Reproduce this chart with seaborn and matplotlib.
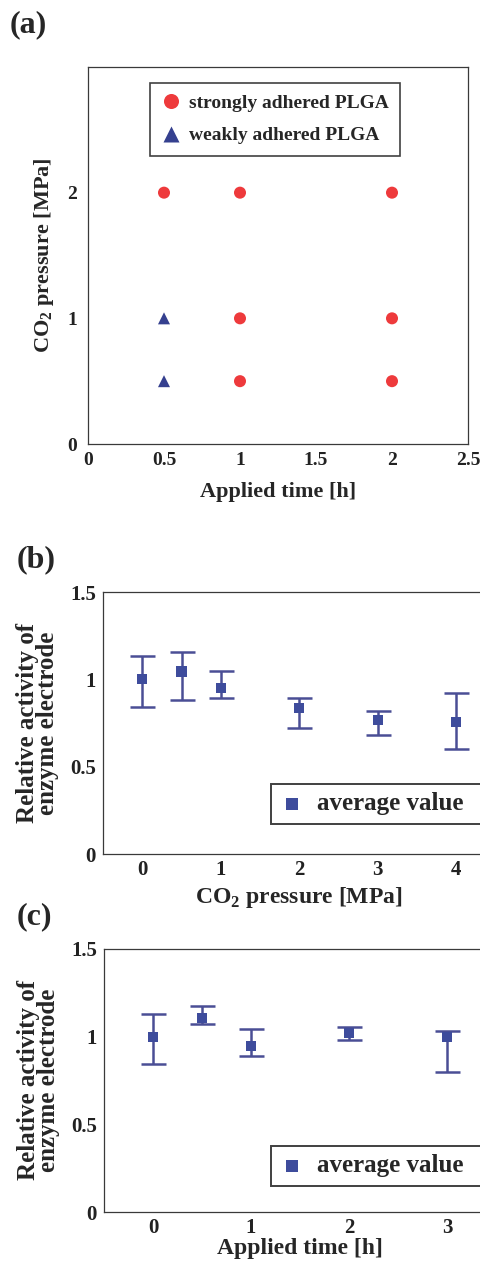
import numpy as np
import pandas as pd
import matplotlib
matplotlib.use("Agg")
import matplotlib.pyplot as plt
import seaborn as sns

# ---- panel (a): adhesion state map ----
time_h = [0.5, 1, 2, 0.5, 1, 2, 0.5, 1, 2]
pressure_mpa = [2, 2, 2, 1, 1, 1, 0.5, 0.5, 0.5]
adhesion = ["strongly adhered PLGA", "strongly adhered PLGA", "strongly adhered PLGA",
            "weakly adhered PLGA", "strongly adhered PLGA", "strongly adhered PLGA",
            "weakly adhered PLGA", "strongly adhered PLGA", "strongly adhered PLGA"]

# ---- panel (b): activity vs CO2 pressure ----
b_pressure = [0, 0.5, 1, 2, 3, 4]
b_mean = [1.00, 1.044, 0.950, 0.837, 0.768, 0.757]
b_low = [0.843, 0.881, 0.891, 0.720, 0.684, 0.602]
b_high = [1.134, 1.157, 1.048, 0.895, 0.820, 0.923]

# ---- panel (c): activity vs applied time ----
c_time = [0, 0.5, 1, 2, 3]
c_mean = [1.00, 1.105, 0.947, 1.019, 1.00]
c_low = [0.842, 1.074, 0.891, 0.979, 0.796]
c_high = [1.128, 1.175, 1.044, 1.057, 1.032]

sns.set_theme(style="white")
plt.rcParams["font.family"] = ["Liberation Serif", "DejaVu Serif"]
plt.rcParams["font.weight"] = "bold"
plt.rcParams["mathtext.fontset"] = "custom"
plt.rcParams["mathtext.rm"] = "Liberation Serif:bold"
plt.rcParams["mathtext.bf"] = "Liberation Serif:bold"

W, H = 481, 1261
fig = plt.figure(figsize=(W / 100, H / 100), dpi=100)
fig.patch.set_facecolor("white")

RED = "#ee3a3c"
NAVY = "#35408f"
SQ = "#3e4c9c"
ERR = "#4a4e95"
SPINE = "#3a3a3a"


def px_axes(left, top, right, bottom):
    return fig.add_axes([left / W, 1 - bottom / H, (right - left) / W, (bottom - top) / H])


def style_axes(ax, size, ypad=5, xpad=5):
    for s in ax.spines.values():
        s.set_color(SPINE)
        s.set_linewidth(0.9)
    ax.tick_params(direction="in", length=4, width=0.8, color=SPINE, labelsize=size)
    ax.tick_params(axis="y", pad=ypad)
    ax.tick_params(axis="x", pad=xpad)
    for lab in ax.get_xticklabels() + ax.get_yticklabels():
        lab.set_fontweight("bold")
        lab.set_color("#222222")


# ---------- (a) ----------
ax_a = px_axes(88, 67, 468, 444)
df_a = pd.DataFrame({"time": time_h, "pressure": pressure_mpa, "state": adhesion})
sns.scatterplot(data=df_a, x="time", y="pressure", hue="state", style="state",
                hue_order=["strongly adhered PLGA", "weakly adhered PLGA"],
                style_order=["strongly adhered PLGA", "weakly adhered PLGA"],
                palette=[RED, NAVY], markers=["o", "^"], s=75,
                edgecolor="none", ax=ax_a, legend=True)
ax_a.set_xlim(0, 2.5)
ax_a.set_ylim(0, 3)
ax_a.set_xticks([0, 0.5, 1, 1.5, 2, 2.5])
ax_a.set_xticklabels(["0", "0.5", "1", "1.5", "2", "2.5"])
ax_a.set_yticks([0, 1, 2])
ax_a.set_yticklabels(["0", "1", "2"])
ax_a.set_xlabel("Applied time [h]", fontsize=16, fontweight="bold", labelpad=9)
ax_a.set_ylabel(r"CO$_2$ pressure [MPa]", fontsize=16, fontweight="bold", labelpad=8)
style_axes(ax_a, 14, ypad=8, xpad=6)
leg = ax_a.legend(loc="upper left", bbox_to_anchor=((150 - 88) / 380, 1 - (83 - 67) / 377),
                  frameon=True, fancybox=False, fontsize=14, handletextpad=0.4,
                  handlelength=1.0, borderpad=0.6, labelspacing=0.75,
                  borderaxespad=0, markerscale=1.25)
leg.get_frame().set_edgecolor("#111111")
leg.get_frame().set_linewidth(1.2)
for t in leg.get_texts():
    t.set_fontweight("bold")
fig.text(10 / W, 1 - 25 / H, "(a)", fontsize=23, va="center", ha="left")


def activity_panel(ax, xs, means, lows, highs, xlim, xticks, xlabel,
                   leg_left, leg_bottom, leg_width, leg_height, xlabelpad):
    df = pd.DataFrame({"x": xs, "y": means})
    yerr = np.array([np.array(means) - np.array(lows), np.array(highs) - np.array(means)])
    ax.errorbar(xs, means, yerr=yerr, fmt="none", ecolor=ERR, elinewidth=1.8,
                capsize=9, capthick=1.8, zorder=2)
    sns.scatterplot(data=df, x="x", y="y", marker="s", s=55, color=SQ,
                    edgecolor="none", ax=ax, label="average value", zorder=3)
    ax.set_xlim(*xlim)
    ax.set_ylim(0, 1.5)
    ax.set_xticks(xticks)
    ax.set_xticklabels([str(v) for v in xticks])
    ax.set_yticks([0, 0.5, 1, 1.5])
    ax.set_yticklabels(["0", "0.5", "1", "1.5"])
    ax.set_xlabel(xlabel, fontsize=17, fontweight="bold", labelpad=xlabelpad)
    ax.set_ylabel("Relative activity of\nenzyme electrode", fontsize=18,
                  fontweight="bold", linespacing=0.85, labelpad=8)
    style_axes(ax, 15, ypad=5, xpad=4)
    lg = ax.legend(loc="lower left",
                   bbox_to_anchor=(leg_left, leg_bottom, leg_width, leg_height),
                   mode="expand", frameon=True, fancybox=False, fontsize=18,
                   handletextpad=0.5, handlelength=1.0, borderpad=0.35,
                   markerscale=1.2, borderaxespad=0)
    lg.get_frame().set_edgecolor("#111111")
    lg.get_frame().set_linewidth(1.4)
    for t in lg.get_texts():
        t.set_fontweight("bold")


# ---------- (b) ----------
ax_b = px_axes(103, 592, 103 + 392.5, 854)
activity_panel(ax_b, b_pressure, b_mean, b_low, b_high, (-0.5, 4.5), [0, 1, 2, 3, 4],
               r"CO$_2$ pressure [MPa]", (271 - 103) / 392.5, (854 - 824) / 262,
               (500 - 271) / 392.5, 0.14, 4)
fig.text(17 / W, 1 - 560 / H, "(b)", fontsize=23, fontweight="bold", va="center", ha="left")

# ---------- (c) ----------
ax_c = px_axes(104, 949, 104 + 392, 1212)
activity_panel(ax_c, c_time, c_mean, c_low, c_high, (-0.5, 3.5), [0, 1, 2, 3],
               "Applied time [h]", (271 - 104) / 392, (1212 - 1186) / 263,
               (500 - 271) / 392, 0.14, 0)
fig.text(17 / W, 1 - 917 / H, "(c)", fontsize=23, fontweight="bold", va="center", ha="left")

fig.savefig("out.png", dpi=100, facecolor="white")
